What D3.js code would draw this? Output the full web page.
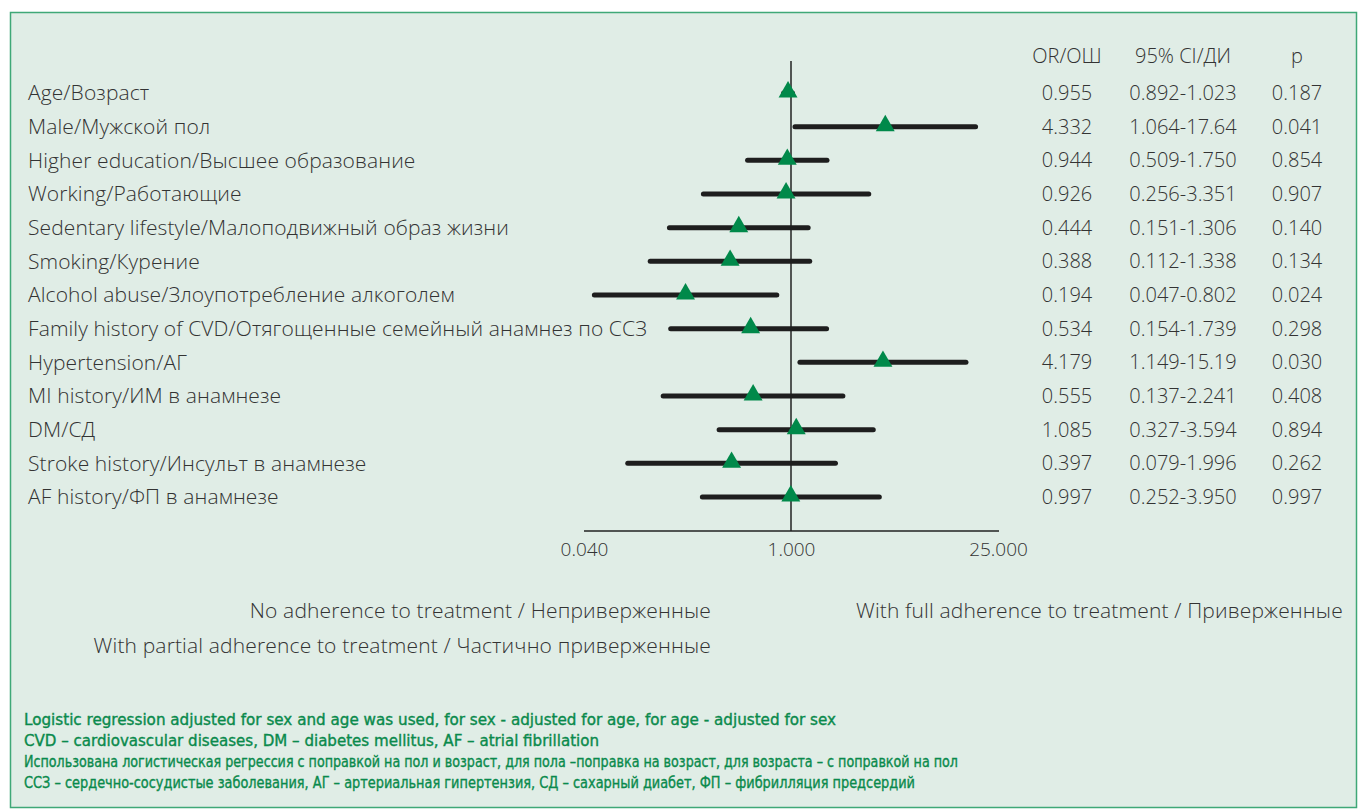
<!DOCTYPE html>
<html>
<head>
<meta charset="utf-8">
<script src="https://cdn.jsdelivr.net/npm/d3@7"></script>
<style>
  body { margin: 0; background: #fff; }
  svg { display: block; }
</style>
</head>
<body>
<svg id="chart" width="1358" height="810"></svg>
<script>
// chart values
const factors = [
    "Age/Возраст",
    "Male/Мужской пол",
    "Higher education/Высшее образование",
    "Working/Работающие",
    "Sedentary lifestyle/Малоподвижный образ жизни",
    "Smoking/Курение",
    "Alcohol abuse/Злоупотребление алкоголем",
    "Family history of CVD/Отягощенные семейный анамнез по ССЗ",
    "Hypertension/АГ",
    "MI history/ИМ в анамнезе",
    "DM/СД",
    "Stroke history/Инсульт в анамнезе",
    "AF history/ФП в анамнезе"
];
const oddsRatio = [0.955, 4.332, 0.944, 0.926, 0.444, 0.388, 0.194, 0.534, 4.179, 0.555, 1.085, 0.397, 0.997];
const ciLow  = [0.892, 1.064, 0.509, 0.256, 0.151, 0.112, 0.047, 0.154, 1.149, 0.137, 0.327, 0.079, 0.252];
const ciHigh = [1.023, 17.64, 1.750, 3.351, 1.306, 1.338, 0.802, 1.739, 15.19, 2.241, 3.594, 1.996, 3.950];
const ciText = ["0.892-1.023", "1.064-17.64", "0.509-1.750", "0.256-3.351", "0.151-1.306", "0.112-1.338",
    "0.047-0.802", "0.154-1.739", "1.149-15.19", "0.137-2.241", "0.327-3.594", "0.079-1.996", "0.252-3.950"];
const pValues = ["0.187", "0.041", "0.854", "0.907", "0.140", "0.134", "0.024", "0.298", "0.030", "0.408", "0.894", "0.262", "0.997"];
const tickValues = [0.04, 1, 25];
const columnHeaders = ["OR/ОШ", "95% CI/ДИ", "p"];
const legendItems = [
    "No adherence to treatment / Неприверженные",
    "With partial adherence to treatment / Частично приверженные",
    "With full adherence to treatment / Приверженные"
];
const notes = [
    "Logistic regression adjusted for sex and age was used, for sex - adjusted for age, for age - adjusted for sex",
    "CVD – cardiovascular diseases, DM – diabetes mellitus, AF – atrial fibrillation",
    "Использована логистическая регрессия с поправкой на пол и возраст, для пола –поправка на возраст, для возраста – с поправкой на пол",
    "ССЗ – сердечно-сосудистые заболевания, АГ – артериальная гипертензия, СД – сахарный диабет, ФП – фибрилляция предсердий"
];

const rows = factors.map((name, i) => ({
    name, or: oddsRatio[i], lo: ciLow[i], hi: ciHigh[i], ci: ciText[i], p: pValues[i]
}));

const textFont = "'Open Sans', 'Noto Sans', sans-serif";
const textColor = "#333";
const green = "#00894a";

const svg = d3.select("#chart");

// panel background + border
svg.append("rect")
    .attr("x", 10.5).attr("y", 12.5)
    .attr("width", 1346).attr("height", 795)
    .attr("fill", "#e0ede6")
    .attr("stroke", "#3fa877")
    .attr("stroke-width", 1.5);

// scales
const x = d3.scaleLog().domain([0.04, 25]).range([584, 998]);
const y = d3.scalePoint().domain(factors).range([93, 497]);
const axisY = 531;

// reference line at OR = 1
svg.append("line")
    .attr("x1", x(1)).attr("x2", x(1))
    .attr("y1", 61).attr("y2", axisY)
    .attr("stroke", "#222").attr("stroke-width", 1.5);

// bottom axis (line + labels only)
const axis = d3.axisBottom(x)
    .tickValues(tickValues)
    .tickSize(0)
    .tickPadding(12)
    .tickFormat(d3.format(".3f"));

const gAxis = svg.append("g")
    .attr("transform", `translate(0,${axisY})`)
    .call(axis);
gAxis.select(".domain")
    .attr("d", `M${x(0.04)},0H${x(25) + 1}`)
    .attr("stroke", "#222").attr("stroke-width", 1.5);
gAxis.selectAll("text")
    .attr("font-family", textFont)
    .attr("font-weight", 300)
    .attr("font-size", 19)
    .attr("fill", textColor);

// row labels
svg.append("g").selectAll("text")
    .data(rows)
    .join("text")
    .attr("x", 28)
    .attr("y", d => y(d.name))
    .attr("dy", "0.35em")
    .attr("font-family", textFont)
    .attr("font-weight", 300)
    .attr("font-size", 21)
    .attr("letter-spacing", 0.1)
    .attr("fill", textColor)
    .text(d => d.name);

// confidence intervals
svg.append("g")
    .attr("stroke", "#1e1e1e")
    .attr("stroke-width", 5)
    .attr("stroke-linecap", "round")
    .selectAll("line")
    .data(rows)
    .join("line")
    .attr("x1", d => x(d.lo))
    .attr("x2", d => x(d.hi))
    .attr("y1", d => y(d.name))
    .attr("y2", d => y(d.name));

// OR markers
const tri = d3.symbol().type(d3.symbolTriangle).size(155);
svg.append("g")
    .selectAll("path")
    .data(rows)
    .join("path")
    .attr("transform", d => `translate(${x(d.or)},${y(d.name) - 1})`)
    .attr("d", tri)
    .attr("fill", green);

// table columns
const colX = [1067, 1183, 1297];
svg.append("g").selectAll("text")
    .data(columnHeaders)
    .join("text")
    .attr("x", (d, i) => colX[i])
    .attr("y", 56)
    .attr("dy", "0.35em")
    .attr("text-anchor", "middle")
    .attr("font-family", textFont)
    .attr("font-weight", 300)
    .attr("font-size", 20)
    .attr("fill", textColor)
    .text(d => d);

const cells = [d => d3.format(".3f")(d.or), d => d.ci, d => d.p];
cells.forEach((fn, c) => {
    svg.append("g").selectAll("text")
        .data(rows)
        .join("text")
        .attr("x", colX[c])
        .attr("y", d => y(d.name))
        .attr("dy", "0.35em")
        .attr("text-anchor", "middle")
        .attr("font-family", textFont)
        .attr("font-weight", 300)
        .attr("font-size", 20)
        .attr("fill", textColor)
        .text(fn);
});

// legend (text only)
const legendPos = [[711, 611, "end"], [711, 646, "end"], [856, 611, "start"]];
svg.append("g").selectAll("text")
    .data(legendItems)
    .join("text")
    .attr("x", (d, i) => legendPos[i][0])
    .attr("y", (d, i) => legendPos[i][1])
    .attr("dy", "0.35em")
    .attr("text-anchor", (d, i) => legendPos[i][2])
    .attr("font-family", textFont)
    .attr("font-weight", 300)
    .attr("font-size", 21)
    .attr("letter-spacing", 0.15)
    .attr("fill", textColor)
    .text(d => d);

// footnotes, stretched to the line widths of the original
const noteWidths = [812, 575, 934, 891];
svg.append("g").selectAll("text")
    .data(notes)
    .join("text")
    .attr("x", 24)
    .attr("y", (d, i) => 720 + i * 21)
    .attr("dy", "0.35em")
    .attr("textLength", (d, i) => noteWidths[i])
    .attr("lengthAdjust", "spacingAndGlyphs")
    .attr("font-family", "'Liberation Sans Narrow', 'DejaVu Sans Condensed', sans-serif")
    .attr("font-weight", 400)
    .attr("font-size", 15.5)
    .attr("fill", "#0a8a4c")
    .attr("stroke", "#0a8a4c")
    .attr("stroke-width", 0.35)
    .text(d => d);
</script>
</body>
</html>
